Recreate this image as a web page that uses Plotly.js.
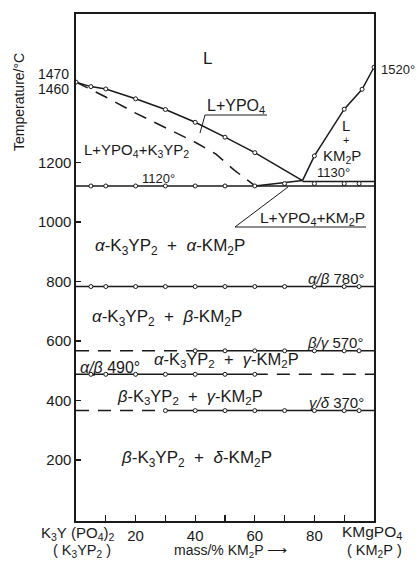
<!DOCTYPE html>
<html><head><meta charset="utf-8">
<script src="https://cdn.plot.ly/plotly-3.0.1.min.js"></script>
<style>html,body{margin:0;padding:0;background:#fff}#chart{width:418px;height:562px}</style>
</head><body><div id="chart"></div>
<script>
// ---------- data (mass-% KM2P, temperature °C) ----------
const liqYPO4_x = [0, 5, 10, 20, 30, 40, 50, 60, 76];
const liqYPO4_T = [1470, 1455, 1447, 1414, 1378, 1335, 1285, 1233, 1139];
const liqYPO4_mx = [0, 5, 10, 20, 30, 40, 50, 60];
const liqYPO4_mT = [1470, 1455, 1447, 1414, 1378, 1335, 1285, 1233];

const liqKM2P_x = [76, 80, 90, 96, 100];
const liqKM2P_T = [1139, 1222, 1379, 1446, 1520];
const liqKM2P_mx = [80, 90, 96, 100];
const liqKM2P_mT = [1222, 1379, 1446, 1520];

const bndDash_x = [0, 10, 20, 30, 40, 47, 53, 60];
const bndDash_T = [1470, 1420, 1366, 1318, 1268, 1228, 1175, 1122];

const solidus_x = [60, 76];
const solidus_T = [1121, 1139];

const eut1130_x = [76, 100];
const eut1130_T = [1136, 1136];

const iso1120_x = [0, 100];
const iso1120_T = [1121, 1121];
const iso1120_mx = [5, 10, 20, 30, 40, 50, 60];
const iso1120_mT = [1121, 1121, 1121, 1121, 1121, 1121, 1121];
const iso1130_mx = [70, 80, 90, 95];
const iso1130_mT = [1129, 1129, 1129, 1129];

const iso780_x = [0, 100];
const iso780_T = [783, 783];
const iso780_mx = [5, 10, 20, 30, 40, 50, 60, 70, 80, 90, 95];
const iso780_mT = [783, 783, 783, 783, 783, 783, 783, 783, 783, 783, 783];

const iso570d_x = [0, 40];
const iso570s_x = [40, 100];
const iso570_T = [567, 567];
const iso570_mx = [40, 50, 60, 70, 80, 90, 95];
const iso570_mT = [567, 567, 567, 567, 567, 567, 567];

const iso490s_x = [0, 60];
const iso490d_x = [60, 100];
const iso490_T = [488, 488];
const iso490_mx = [5, 10, 20, 30, 40, 50, 60];
const iso490_mT = [488, 488, 488, 488, 488, 488, 488];

const iso370d_x = [0, 30];
const iso370s_x = [30, 100];
const iso370_T = [366, 366];
const iso370_mx = [30, 40, 50, 60, 70, 80, 90, 95];
const iso370_mT = [366, 366, 366, 366, 366, 366, 366, 366];

const xTickVals = [10, 20, 30, 40, 50, 60, 70, 80, 90];
const xTickText = ['', '20', '', '40', '', '60', '', '80', ''];
const yTickVals = [200, 400, 600, 800, 1000, 1200];
const yTickText = ['200', '400', '600', '800', '1000', '1200'];

// ---------- drawing ----------
const C = '#1a1a1a';
const FONT = 'Liberation Sans, Arial, sans-serif';
const W = 418, H = 562, ML = 76, MR = 44, MT = 14, MB = 41;
const PW = W - ML - MR, PH = H - MT - MB;
const fx = p => (p - ML) / PW;
const fy = p => (H - MB - p) / PH;

function ln(x, y, dash, w) {
  return {x: x, y: y, mode: 'lines', hoverinfo: 'skip', showlegend: false,
    line: {color: C, width: w || 1.5, dash: dash || 'solid', shape: 'linear'}};
}
function mk(x, y) {
  return {x: x, y: y, mode: 'markers', hoverinfo: 'skip', showlegend: false,
    marker: {symbol: 'circle', size: 4, color: '#fff', line: {color: C, width: 1}}};
}
const DASH = '13px,9px';
const traces = [
  ln(iso1120_x, iso1120_T), ln(eut1130_x, eut1130_T), ln(solidus_x, solidus_T),
  ln(iso780_x, iso780_T),
  ln(iso570d_x, iso570_T, DASH), ln(iso570s_x, iso570_T),
  ln(iso490s_x, iso490_T), ln(iso490d_x, iso490_T, DASH),
  ln(iso370d_x, iso370_T, DASH), ln(iso370s_x, iso370_T),
  ln(bndDash_x, bndDash_T, DASH),
  ln(liqYPO4_x, liqYPO4_T), ln(liqKM2P_x, liqKM2P_T),
  mk(liqYPO4_mx, liqYPO4_mT), mk(liqKM2P_mx, liqKM2P_mT),
  mk(iso1120_mx, iso1120_mT), mk(iso1130_mx, iso1130_mT),
  mk(iso780_mx, iso780_mT), mk(iso570_mx, iso570_mT),
  mk(iso490_mx, iso490_mT), mk(iso370_mx, iso370_mT)
];

function A(text, x, y, size, opt) {
  return Object.assign({text: text, x: fx(x), y: fy(y), xref: 'paper', yref: 'paper',
    showarrow: false, xanchor: 'center', yanchor: 'middle',
    font: {family: FONT, size: size || 15, color: C}}, opt || {});
}
const sub = s => '<sub>' + s + '</sub>';
const S = '\u00a0';
const PL = S + S + '+' + S + S;
const annotations = [
  A('L', 207, 58, 17),
  A('L+YPO' + sub('4'), 236, 106, 16),
  A('L+YPO' + sub('4') + '+K' + sub('3') + 'YP' + sub('2'), 136, 150, 15),
  A('1120°', 158, 178, 13),
  A('L', 346, 125, 15),
  A('+', 346, 140, 11),
  A('KM' + sub('2') + 'P', 342, 156, 15),
  A('1130°', 333, 172, 13),
  A('1520°', 398, 69, 13),
  A('1470', 71, 74, 14, {xanchor: 'right'}),
  A('1460', 71, 89, 14, {xanchor: 'right'}),
  A('L+YPO' + sub('4') + '+KM' + sub('2') + 'P', 312, 219, 15.5),
  A('<i>α</i>-K' + sub('3') + 'YP' + sub('2') + PL + '<i>α</i>-KM' + sub('2') + 'P', 170, 247, 17),
  A('<i>α/β</i>' + S + '780°', 336, 278, 15),
  A('<i>α</i>-K' + sub('3') + 'YP' + sub('2') + PL + '<i>β</i>-KM' + sub('2') + 'P', 167, 318, 17),
  A('<i>β/γ</i>' + S + '570°', 335, 342, 15),
  A('<i>α/β</i>' + S + '490°', 110, 367, 16),
  A('<i>α</i>-K' + sub('3') + 'YP' + sub('2') + PL + '<i>γ</i>-KM' + sub('2') + 'P', 226, 360, 16.5),
  A('<i>β</i>-K' + sub('3') + 'YP' + sub('2') + PL + '<i>γ</i>-KM' + sub('2') + 'P', 190, 397, 16.5),
  A('<i>γ/δ</i>' + S + '370°', 336, 402, 15),
  A('<i>β</i>-K' + sub('3') + 'YP' + sub('2') + PL + '<i>δ</i>-KM' + sub('2') + 'P', 196, 459, 17),
  A('Temperature/°C', 19, 102, 14, {textangle: -90}),
  A('K' + sub('3') + 'Y' + S + '(PO' + sub('4') + ')' + sub('2'), 78, 533, 15),
  A('(' + S + 'K' + sub('3') + 'YP' + sub('2') + S + ')', 82, 551, 14.5),
  A('KMgPO' + sub('4'), 372, 532, 15.5),
  A('(' + S + 'KM' + sub('2') + 'P' + S + ')', 374, 551, 14.5),
  A('mass/%' + S + 'KM' + sub('2') + 'P' + S + '⟶', 230, 551, 14)
];

function seg(x0, y0, x1, y1) {
  return {type: 'line', xref: 'paper', yref: 'paper', x0: fx(x0), y0: fy(y0), x1: fx(x1), y1: fy(y1),
    line: {color: C, width: 1}};
}
const shapes = [
  seg(205, 115, 267, 115), seg(205, 115, 200, 133),
  seg(235, 227, 366, 227), seg(235, 227, 288, 187)
];

const layout = {
  width: W, height: H,
  margin: {l: ML, r: MR, t: MT, b: MB, pad: 0},
  paper_bgcolor: '#fff', plot_bgcolor: '#fff',
  showlegend: false,
  font: {family: FONT, size: 14, color: C},
  xaxis: {range: [0, 100], showgrid: false, zeroline: false, showline: true, mirror: true,
    linecolor: C, linewidth: 1.6, ticks: 'inside', ticklen: 6, tickwidth: 1.2, tickcolor: C,
    tickmode: 'array', tickvals: xTickVals, ticktext: xTickText,
    tickfont: {family: FONT, size: 15, color: C}},
  yaxis: {range: [-5, 1699], showgrid: false, zeroline: false, showline: true, mirror: true,
    linecolor: C, linewidth: 1.6, ticks: 'inside', ticklen: 5, tickwidth: 1.2, tickcolor: C,
    tickmode: 'array', tickvals: yTickVals, ticktext: yTickText,
    tickfont: {family: FONT, size: 15, color: C}},
  annotations: annotations,
  shapes: shapes
};

Plotly.newPlot('chart', traces, layout, {staticPlot: true, displayModeBar: false});
</script>
</body></html>
